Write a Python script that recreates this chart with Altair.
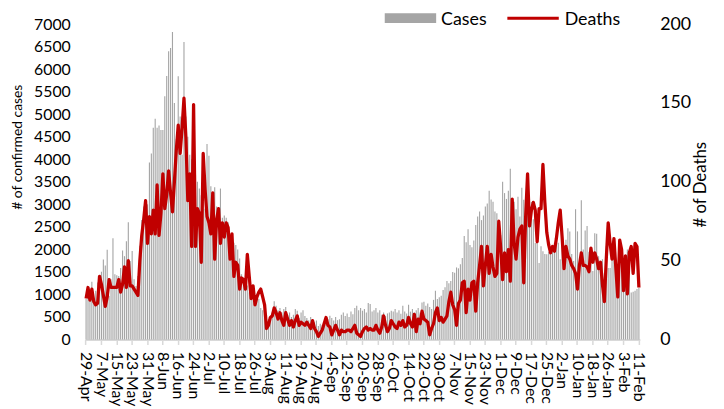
import altair as alt
import pandas as pd

START = "2020-04-29"

cases = [
    900, 1190, 1045, 1280, 900, 1080, 1265, 1410, 1505, 1776,
    1645, 1995, 970, 1338, 2250, 1450, 1425, 1410, 1590, 1975,
    1850, 2180, 2600, 1740, 1966, 1340, 1190, 1410, 2080, 2650,
    2950, 3090, 3000, 3930, 4130, 4700, 4900, 4700, 4750, 4650,
    4650, 5400, 5850, 6400, 6470, 6825, 5250, 4450, 5840, 4950,
    4100, 6600, 4950, 4500, 4100, 4000, 3900, 3650, 3500, 3350,
    3200, 3050, 2900, 4340, 4080, 3400, 3280, 3380, 2950, 2800,
    3350, 2700, 2750, 2700, 2600, 2300, 2300, 2150, 2100, 2000,
    1800, 1450, 1350, 1300, 1200, 1050, 1100, 950, 900, 1000,
    900, 700, 650, 600, 550, 450, 500, 600, 850, 750,
    650, 700, 600, 680, 720, 550, 600, 500, 550, 680,
    640, 480, 600, 650, 520, 480, 430, 500, 450, 380,
    420, 300, 350, 320, 280, 400, 450, 530, 480, 420,
    500, 430, 450, 550, 600, 520, 580, 500, 620, 560,
    700, 750, 650, 700, 640, 680, 600, 810, 790, 620,
    650, 700, 600, 650, 550, 600, 520, 580, 600, 640,
    620, 680, 600, 650, 570, 750, 620, 580, 770, 620,
    680, 600, 650, 700, 600, 820, 840, 750, 800, 720,
    680, 880, 1080, 900, 940, 970, 1100, 1160, 1300, 1250,
    1300, 1500, 1480, 1600, 1580, 1670, 1810, 2300, 2160, 2450,
    2100, 2050, 2200, 2540, 2730, 2840, 2650, 2750, 2950, 3020,
    3300, 3110, 3060, 2840, 2800, 2650, 2320, 3500, 3250, 3120,
    3300, 3790, 3100, 3060, 2890, 3170, 2730, 3370, 3100, 2670,
    2980, 3130, 3050, 2670, 2140, 2200, 1700, 2070, 1960, 1900,
    1890, 1950, 1900, 2100, 2150, 2290, 2150, 1780, 2100, 1900,
    2215, 2470, 2400, 1900, 1740, 2890, 2400, 1480, 3090, 2000,
    2420, 2520, 1950, 1900, 1520, 2360, 2350, 1850, 1630, 1780,
    1480, 2070, 1590, 1590, 2140, 1890, 1560, 1630, 2070, 1850,
    1260, 1190, 2000, 1900, 1045, 1060, 1080, 1120, 1150,
]

deaths = [
    26, 33, 25, 32, 24, 22, 23, 40, 35, 28,
    21, 27, 38, 33, 33, 33, 33, 38, 30, 35,
    46, 33, 50, 34, 34, 32, 30, 28, 50, 66,
    76, 88, 61, 78, 67, 82, 67, 98, 66, 80,
    105, 83, 92, 107, 93, 81, 100, 120, 136, 118,
    134, 153, 128, 88, 105, 59, 149, 59, 83, 80,
    49, 118, 95, 78, 74, 67, 93, 51, 76, 83,
    61, 74, 65, 74, 71, 51, 67, 40, 49, 47,
    32, 39, 38, 32, 54, 40, 26, 34, 22, 27,
    30, 32, 27, 22, 7, 9, 14, 15, 20, 17,
    13, 17, 12, 9, 17, 13, 9, 12, 8, 12,
    15, 9, 11, 10, 9, 11, 9, 7, 12, 7,
    5, 2, 4, 6, 10, 14, 9, 8, 3, 6,
    9, 6, 3, 6, 5, 5, 6, 6, 5, 7,
    9, 4, 3, 2, 5, 7, 8, 6, 7, 6,
    6, 9, 6, 4, 8, 15, 9, 5, 7, 12,
    10, 8, 7, 11, 9, 12, 8, 9, 14, 10,
    8, 16, 5, 13, 10, 18, 13, 12, 11, 3,
    7, 10, 17, 20, 12, 14, 11, 13, 15, 24,
    30, 22, 19, 9, 23, 25, 36, 37, 17, 32,
    25, 36, 37, 18, 36, 47, 59, 34, 47, 59,
    42, 54, 46, 40, 42, 75, 58, 38, 55, 43,
    57, 37, 89, 61, 51, 65, 70, 72, 36, 78,
    105, 72, 82, 87, 82, 62, 83, 83, 111, 87,
    68, 60, 55, 59, 56, 64, 74, 82, 65, 45,
    59, 53, 51, 47, 45, 42, 32, 47, 55, 47,
    47, 46, 43, 58, 49, 55, 51, 45, 49, 35,
    24, 51, 74, 61, 51, 64, 45, 27, 63, 57,
    31, 53, 29, 55, 59, 42, 61, 59, 33,
]

tick_labels = [
    "29-Apr", "7-May", "15-May", "23-May", "31-May", "8-Jun", "16-Jun",
    "24-Jun", "2-Jul", "10-Jul", "18-Jul", "26-Jul", "3-Aug", "11-Aug",
    "19-Aug", "27-Aug", "4-Sep", "12-Sep", "20-Sep", "28-Sep", "6-Oct",
    "14-Oct", "22-Oct", "30-Oct", "7-Nov", "15-Nov", "23-Nov", "1-Dec",
    "9-Dec", "17-Dec", "25-Dec", "2-Jan", "10-Jan", "18-Jan", "26-Jan",
    "3-Feb", "11-Feb",
]

left_ticks = list(range(0, 7001, 500))
right_ticks = [0, 50, 100, 150, 200]

dates = pd.date_range(START, periods=len(cases), freq="D")
labels = [f"{d.day}-{d.strftime('%b')}" for d in dates]
df = pd.DataFrame({"date": labels, "cases": cases, "deaths": deaths})

FONT = "Lato"
W, H = 561, 319

x_enc = alt.X(
    "date:N", sort=None, title=None,
    scale=alt.Scale(paddingInner=0.42, paddingOuter=0.21),
    axis=alt.Axis(
        values=tick_labels, labelAngle=90, labelFont=FONT, labelFontSize=16,
        labelColor="#000000", labelOverlap=False, labelPadding=7,
        domainColor="#d9d9d9", domainWidth=2, tickColor="#d9d9d9",
        tickSize=5, tickWidth=1.5, grid=False,
    ),
)

bars = alt.Chart(df).mark_bar(color="#a5a5a5").encode(
    x=x_enc,
    y=alt.Y(
        "cases:Q",
        scale=alt.Scale(domain=[0, 7000], nice=False),
        axis=alt.Axis(
            values=left_ticks, format="d", title="# of confirmed cases",
            grid=False, domain=False, ticks=False, labelFont=FONT,
            labelFontSize=16, labelColor="#000000", labelPadding=15,
            titleFont=FONT, titleFontSize=14, titleFontWeight="normal",
            titleColor="#000000", titleAngle=270, titleX=-68, titleY=124,
            titleAlign="center", titleBaseline="middle",
        ),
    ),
)

line = alt.Chart(df).mark_line(
    color="#c00000", strokeWidth=3.3, strokeJoin="round"
).encode(
    x=alt.X("date:N", sort=None),
    y=alt.Y(
        "deaths:Q",
        scale=alt.Scale(domain=[0, 200], nice=False),
        axis=alt.Axis(
            orient="right", values=right_ticks, title="# of Deaths",
            grid=False, domain=False, ticks=False, labelFont=FONT,
            labelFontSize=18, labelColor="#000000", labelPadding=20,
            titleFont=FONT, titleFontSize=17, titleFontWeight="normal",
            titleColor="#000000", titleAngle=270, titleX=61, titleY=162,
            titleAlign="center", titleBaseline="middle",
        ),
    ),
)

one = pd.DataFrame({"k": [0]})
leg_rect = alt.Chart(one).mark_rect(color="#a5a5a5").encode(
    x=alt.value(303), x2=alt.value(355), y=alt.value(-11), y2=alt.value(-1)
)
leg_cases = alt.Chart(one).mark_text(
    text="Cases", font=FONT, fontSize=18, align="left",
    baseline="alphabetic", color="#000000",
).encode(x=alt.value(360), y=alt.value(0.5))
leg_rule = alt.Chart(one).mark_rule(color="#c00000", strokeWidth=3).encode(
    x=alt.value(427), x2=alt.value(479), y=alt.value(-6)
)
leg_deaths = alt.Chart(one).mark_text(
    text="Deaths", font=FONT, fontSize=18, align="left",
    baseline="alphabetic", color="#000000",
).encode(x=alt.value(485), y=alt.value(0.5))

chart = (
    alt.layer(bars, line, leg_rect, leg_cases, leg_rule, leg_deaths)
    .resolve_scale(y="independent")
    .properties(
        width=W, height=H,
        padding={"left": 78, "top": 14, "right": 77, "bottom": 70},
        autosize=alt.AutoSizeParams(type="none"),
    )
    .configure_view(stroke=None)
)

chart.save("out.html", embed_options={"renderer": "svg", "actions": False})
